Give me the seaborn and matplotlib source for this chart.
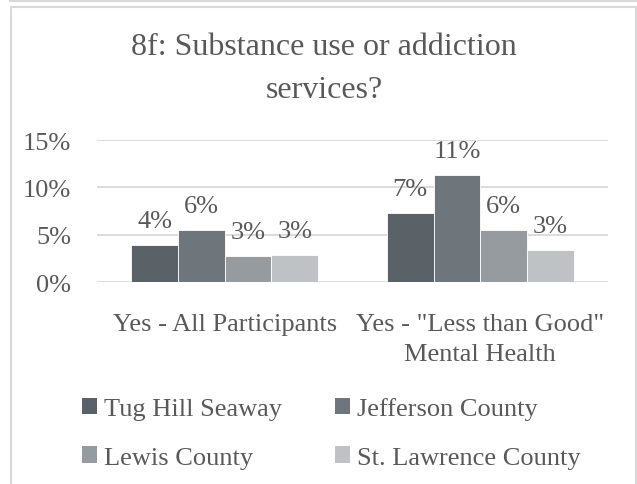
import matplotlib
matplotlib.use("Agg")
import matplotlib.pyplot as plt
from matplotlib.patches import Rectangle
from matplotlib.lines import Line2D
import seaborn as sns
import pandas as pd

# Survey results (percent answering "Yes")
categories = ["Yes - All Participants", 'Yes - "Less than Good"\nMental Health']
regions = ["Tug Hill Seaway", "Jefferson County", "Lewis County", "St. Lawrence County"]
tug_hill = [3.9, 7.3]
jefferson = [5.5, 11.3]
lewis = [2.7, 5.5]
st_lawrence = [2.8, 3.4]
y_ticks = [0, 5, 10, 15]

palette = ["#5a6167", "#6e767c", "#959b9e", "#bfc2c5"]
text_color = "#595959"
grid_color = "#d9d9d9"

rows = []
for region, vals in zip(regions, [tug_hill, jefferson, lewis, st_lawrence]):
    for cat, v in zip(categories, vals):
        rows.append({"category": cat, "region": region, "value": v})
df = pd.DataFrame(rows)

sns.set_theme(style="white")
plt.rcParams["font.family"] = ["Liberation Serif", "DejaVu Serif"]
plt.rcParams["text.color"] = text_color

FS = 19
W, H = 637, 485
fig = plt.figure(figsize=(W / 100, H / 100), dpi=100)

# chart frame
fig.add_artist(Line2D([10 / W, 1], [1 - 2 / H, 1 - 2 / H], transform=fig.transFigure,
                      color=grid_color, lw=1.5))
fig.add_artist(Line2D([10 / W, 10 / W], [1, 1 - 2 / H], transform=fig.transFigure,
                      color=grid_color, lw=1.5))
fig.add_artist(Line2D([635 / W, 635 / W], [1, 1 - 2 / H], transform=fig.transFigure,
                      color=grid_color, lw=1.5))
fig.add_artist(Rectangle((10.5 / W, -0.05), (636 - 10.5) / W, 1.05 - 8 / H,
                         transform=fig.transFigure, fill=False,
                         edgecolor=grid_color, lw=1.5))

ax = fig.add_axes([97 / W, 1 - 283 / H, (608 - 97) / W, (283 - 141) / H])
sns.barplot(data=df, x="category", y="value", hue="region", hue_order=regions,
            palette=palette, width=0.73, gap=0, ax=ax, legend=False,
            edgecolor="white", linewidth=0.6, saturation=1)

ax.set_ylim(0, 15)
ax.set_xlim(-0.5, 1.5)
ax.set_yticks(y_ticks)
ax.set_yticklabels([f"{t}%" for t in y_ticks])
ax.set_axisbelow(True)
ax.yaxis.grid(True, color=grid_color, lw=1.3)
for s in ax.spines.values():
    s.set_visible(False)
ax.set_xlabel("")
ax.set_ylabel("")
ax.tick_params(axis="y", length=0, pad=18.5, labelsize=FS, labelcolor=text_color)
ax.tick_params(axis="x", length=0, pad=22, labelsize=FS, labelcolor=text_color)
for lbl in ax.get_xticklabels():
    lbl.set_linespacing(1.48)
ax.patch.set_alpha(0)

# value labels above each bar
for container in ax.containers:
    for bar in container:
        h = bar.get_height()
        ax.annotate(f"{h:.0f}%", (bar.get_x() + bar.get_width() / 2, h),
                    xytext=(0, 17.5), textcoords="offset points",
                    ha="center", va="center", fontsize=FS, color=text_color)

fig.text(324 / W, 1 - 69 / H, "8f: Substance use or addiction\nservices?",
         ha="center", va="center", fontsize=23, linespacing=1.6, color=text_color)

handles = [Rectangle((0, 0), 1, 1, facecolor=c, edgecolor="none") for c in palette]
order = [0, 2, 1, 3]
fig.legend([handles[i] for i in order], [regions[i] for i in order],
           ncol=2, loc="upper left", bbox_to_anchor=(82 / W, 1 - 398 / H),
           frameon=False, fontsize=FS, handlelength=0.57, handleheight=0.57,
           handletextpad=0.27, columnspacing=2.0, labelspacing=1.0,
           borderpad=0, borderaxespad=0, labelcolor=text_color)

fig.savefig("out.png", dpi=100, facecolor="white")
